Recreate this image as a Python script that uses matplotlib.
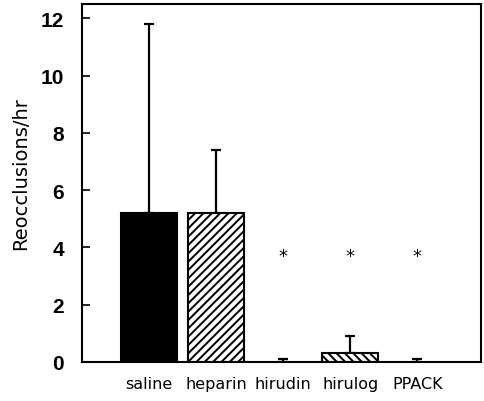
import matplotlib
matplotlib.use("Agg")
import matplotlib.pyplot as plt
import numpy as np

categories = ["saline", "heparin", "hirudin", "hirulog", "PPACK"]
means = [5.2, 5.2, 0.0, 0.3, 0.0]
err_upper = [6.6, 2.2, 0.1, 0.6, 0.1]
star_cats = ["hirudin", "hirulog", "PPACK"]
star_y = 3.7
hatches = [None, "////", None, "\\\\\\\\", None]
colors = ["black", "white", "white", "white", "white"]
yticks = [0, 2, 4, 6, 8, 10, 12]

plt.rcParams['hatch.linewidth'] = 1.4
fig = plt.figure(figsize=(4.85, 4.02), dpi=100)
ax = fig.add_axes([82/485, 1-363/402, (481-82)/485, (363-5)/402])

x = np.arange(len(categories))
for i in range(len(categories)):
    if means[i] > 0:
        ax.bar(x[i], means[i], width=0.84, color=colors[i], edgecolor="black",
               hatch=hatches[i], linewidth=1.5, zorder=2)
    ax.errorbar(x[i], means[i], yerr=[[0], [err_upper[i]]], fmt="none",
                ecolor="black", elinewidth=1.6, capsize=3.5, capthick=1.6, zorder=1)

for c in star_cats:
    ax.text(categories.index(c), star_y, "*", ha="center", va="center",
            fontsize=13)

ax.set_xlim(-1.0, 4.95)
ax.set_ylim(0, 12.5)
ax.set_yticks(yticks)
ax.set_yticklabels([str(t) for t in yticks], fontsize=15, fontweight="bold",
                   family="Liberation Sans")
ax.tick_params(axis="y", direction="in", length=6, width=1.2, pad=13)
ax.set_xticks(x)
ax.set_xticklabels(categories, fontsize=11.5)
ax.tick_params(axis="x", length=0, pad=10)
ax.set_ylabel("Reocclusions/hr", fontsize=14)
ax.yaxis.set_label_coords(-0.13, 0.53)
for s in ax.spines.values():
    s.set_linewidth(1.5)

fig.savefig("out.png", dpi=100)
